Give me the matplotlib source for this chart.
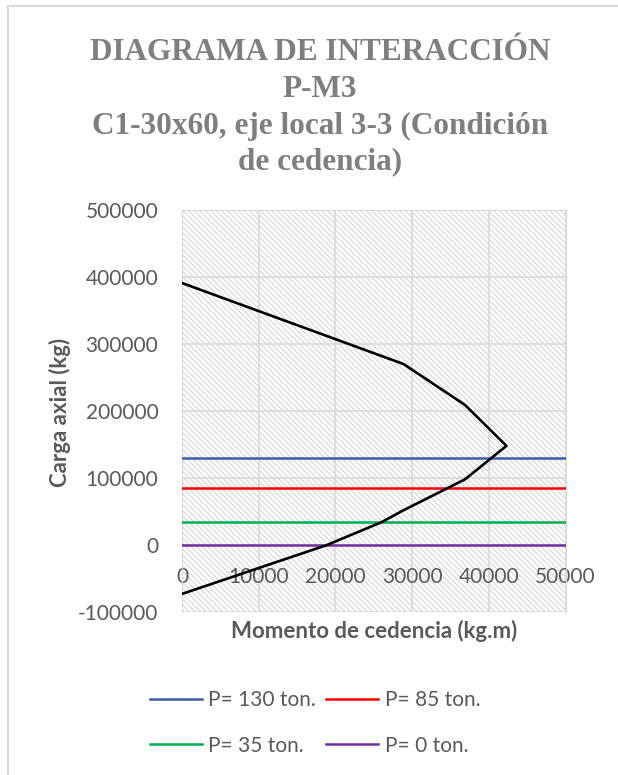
import matplotlib
matplotlib.use("Agg")
import matplotlib.pyplot as plt
from matplotlib.patches import Rectangle

plt.rcParams['axes.unicode_minus'] = False
plt.rcParams['hatch.linewidth'] = 0.8

# Diagrama de interacción P-M3, columna C1-30x60 (condición de cedencia)
momento = [0, 18900, 26000, 28900, 36900, 42300, 36900, 28900, 0]
carga = [-73000, 0, 34000, 52000, 98000, 148000, 209000, 270000, 391000]

cargas_ton = [130, 85, 35, 0]
colores = ['#3c5ea8', '#ff0000', '#00b050', '#7030a0']
etiquetas = [f"P= {p} ton." for p in cargas_ton]

x_ticks = [0, 10000, 20000, 30000, 40000, 50000]
y_ticks = [-100000, 0, 100000, 200000, 300000, 400000, 500000]

gris = '#595959'
fuente = ['Lato', 'DejaVu Sans']
serif = ['Liberation Serif', 'Times New Roman', 'DejaVu Serif']

fig = plt.figure(figsize=(6.18, 7.75), dpi=100)
W, H = 618, 775

# marco del área del gráfico
fig.patches.append(Rectangle((8 / W, -0.1), 1.2, 1.1 - 6 / H, transform=fig.transFigure,
                             facecolor='none', edgecolor='#d9d9d9', linewidth=1.5))

# título en cuatro líneas
titulo = ["DIAGRAMA DE INTERACCIÓN", "P-M3",
          "C1-30x60, eje local 3-3 (Condición", "de cedencia)"]
for linea, base in zip(titulo, [60, 97, 134, 169]):
    fig.text(320 / W, 1 - base / H, linea, ha='center', va='baseline',
             family=serif, fontweight='bold', fontsize=22.5, color='#7f7f7f')

ax = fig.add_axes([182 / W, 1 - 612 / H, (565.5 - 182) / W, (612 - 210) / H])

# fondo rayado del área de trazado
ax.add_patch(Rectangle((0, 0), 1, 1, transform=ax.transAxes, facecolor='white',
                       edgecolor='#d6d6d6', hatch='\\' * 6, linewidth=0, zorder=0.1))

ax.plot(momento, carga, color='black', linewidth=1.9, zorder=4)
lineas = []
for p, c, lab in zip(cargas_ton, colores, etiquetas):
    lineas.append(ax.axhline(p * 1000, color=c, linewidth=1.8, label=lab, zorder=3))

ax.set_xlim(0, 50000)
ax.set_ylim(-100000, 500000)
ax.set_xticks(x_ticks)
ax.set_yticks(y_ticks)
ax.set_axisbelow(True)
ax.grid(True, color='#d9d9d9', linewidth=1.2)

for s in ['left', 'right', 'top']:
    ax.spines[s].set_color('#d9d9d9')
ax.spines['bottom'].set_position(('data', 0))
ax.spines['bottom'].set_color('none')

ax.tick_params(axis='both', length=0, labelsize=15, labelcolor=gris)
ax.tick_params(axis='x', pad=16)
ax.tick_params(axis='y', pad=17)
for t in ax.get_xticklabels() + ax.get_yticklabels():
    t.set_family(fuente)

# títulos de los ejes
fig.text(374 / W, 1 - 631 / H, "Momento de cedencia (kg.m)", ha='center', va='center',
         family=fuente, fontweight='bold', fontsize=16, color=gris)
fig.text(60 / W, 1 - 412 / H, "Carga axial (kg)", ha='center', va='center', rotation=90,
         family=fuente, fontweight='bold', fontsize=16, color=gris)

# leyenda en dos filas: 130 / 85 arriba, 35 / 0 abajo
orden = [0, 2, 1, 3]
fig.legend([lineas[i] for i in orden], [etiquetas[i] for i in orden],
           loc='center', bbox_to_anchor=(315 / W, 1 - 723 / H), ncol=2, frameon=False,
           prop={'family': fuente, 'size': 15}, labelcolor=gris,
           handlelength=2.5, handletextpad=0.3, columnspacing=0.5, labelspacing=1.2)

fig.savefig("out.png", dpi=100)
